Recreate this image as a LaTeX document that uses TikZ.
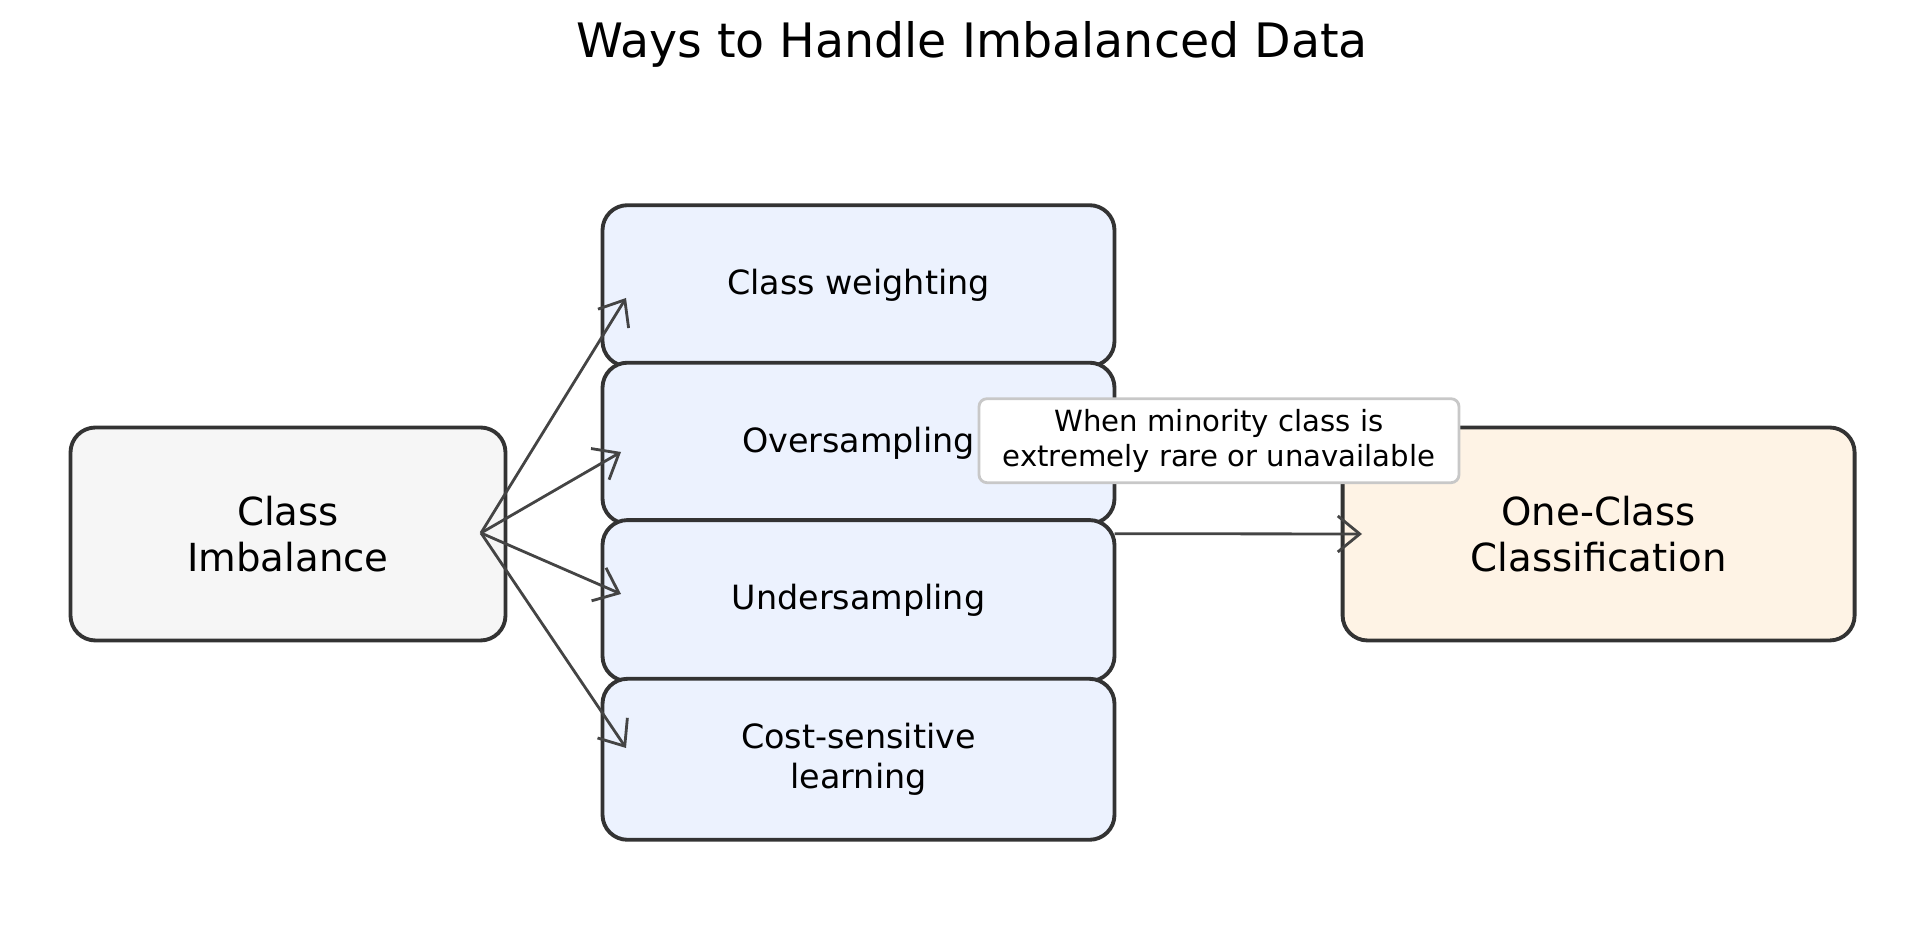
\documentclass[tikz,border=0pt]{standalone}
\usepackage{fontspec}
\setmainfont{DejaVu Sans}
\usetikzlibrary{arrows.meta,positioning,shapes}
\definecolor{edgegray}{HTML}{333333}
\definecolor{arrowgray}{HTML}{444444}
\definecolor{greyfill}{HTML}{F6F6F6}
\definecolor{bluefill}{HTML}{ECF2FE}
\definecolor{orangefill}{HTML}{FEF3E5}
\definecolor{labelgray}{HTML}{C8C8C8}
\tikzset{
  box/.style={draw=edgegray, line width=1.1pt, rounded corners=0.25cm, align=center, inner sep=0pt},
  method/.style={box, fill=bluefill, minimum width=5.12cm, minimum height=1.61cm, font=\fontsize{9.5}{11.5}\selectfont},
  conn/.style={draw=arrowgray, line width=0.8pt, -{Straight Barb[length=2.2mm,width=3.6mm]}}
}
\begin{document}
\begin{tikzpicture}
      \useasboundingbox (0,0) rectangle (19.19,9.44);
      %nodes
      \node[font=\fontsize{13.5}{16}\selectfont] (title) at (9.72, 9.0) {Ways to Handle Imbalanced Data};
      \node[box, fill=greyfill, minimum width=4.35cm, minimum height=2.13cm, font=\fontsize{11}{13}\selectfont] (imb) at (2.88, 4.10) {Class\\Imbalance};
      \node[method] (weight) at (8.585, 6.583) {Class weighting};
      \node[method] (over) at (8.585, 5.008) {Oversampling};
      \node[method] (under) at (8.585, 3.434) {Undersampling};
      \node[method] (cost) at (8.585, 1.847) {Cost-sensitive\\learning};
      \node[box, fill=orangefill, minimum width=5.12cm, minimum height=2.13cm, font=\fontsize{11}{13}\selectfont] (occ) at (15.986, 4.10) {One-Class\\Classification};
      \coordinate (src) at (4.81, 4.11);
      \coordinate (mid) at (11.145, 4.103);
      %edges
      \path[conn] (src) -- (6.26, 6.46);
      \path[conn] (src) -- (6.21, 4.92);
      \path[conn] (src) -- (6.21, 3.50);
      \path[conn] (src) -- (6.26, 1.96);
      \path[conn] (mid) -- (occ.west -| 13.62, 0);
      \node[draw=labelgray, fill=white, line width=0.8pt, rounded corners=0.08cm, align=center, minimum width=4.8cm, minimum height=0.84cm, inner sep=1pt, font=\fontsize{8.3}{10}\selectfont] (cond) at (12.19, 5.033) {When minority class is\\extremely rare or unavailable};
    \end{tikzpicture}
\end{document}
